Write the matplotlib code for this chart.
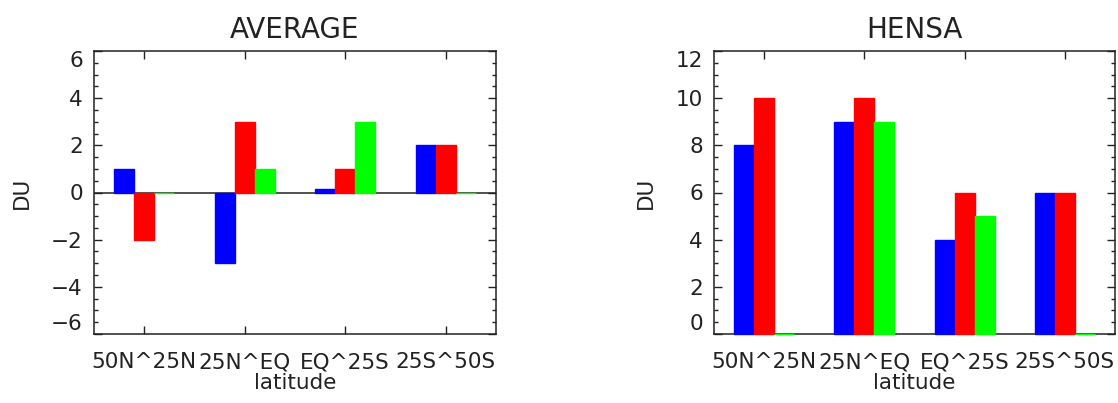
import matplotlib.pyplot as plt
from matplotlib.ticker import MultipleLocator

regions = ["50N^25N", "25N^EQ", "EQ^25S", "25S^50S"]

avg_blue = [1, -3, 0.15, 2]
avg_red = [-2, 3, 1, 2]
avg_green = [0, 1, 3, 0]
avg_yticks = [-6, -4, -2, 0, 2, 4, 6]

hensa_blue = [8, 9, 4, 6]
hensa_red = [10, 10, 6, 6]
hensa_green = [0, 9, 5, 0]
hensa_yticks = [0, 2, 4, 6, 8, 10, 12]

colors = ["#0000ff", "#ff0000", "#00ff00"]
ink = "#222222"

plt.rcParams['font.family'] = ['DejaVu Sans']

fig = plt.figure(figsize=(11.18, 4.03), dpi=100)
ax1 = fig.add_axes([94/1118, 69/403, 402/1118, 283/403])
ax2 = fig.add_axes([714/1118, 69/403, 401/1118, 283/403])


def draw_panel(ax, title, series, yticks, zero_line):
    x = [i + 0.5 for i in range(len(regions))]
    if zero_line:
        ax.axhline(0, color=ink, lw=1.1, zorder=1)
    for k, vals in enumerate(series):
        pos = [xi + (k - 1) * 0.2 for xi in x]
        ax.bar(pos, vals, width=0.2, color=colors[k], edgecolor=colors[k],
               linewidth=1.0, zorder=3, clip_on=False)
    ax.set_xlim(0, 4)
    ax.set_ylim(yticks[0], yticks[-1])
    ax.set_xticks(x)
    ax.set_xticklabels(regions)
    ax.set_yticks(yticks)
    ax.set_yticklabels([str(t).replace("-", "\u2212") for t in yticks])
    ax.yaxis.set_minor_locator(MultipleLocator(0.5))
    ax.tick_params(axis="both", which="both", direction="in", colors=ink,
                   labelcolor=ink, top=True, right=True, labelsize=15.5)
    ax.tick_params(which="major", length=6, width=1)
    ax.tick_params(which="minor", length=3, width=1)
    ax.tick_params(axis="x", pad=13)
    ax.tick_params(axis="y", pad=8)
    for s in ax.spines.values():
        s.set_color(ink)
        s.set_linewidth(1.1)
    ax.set_title(title, fontsize=20, color=ink, pad=9)
    ax.set_xlabel("latitude", fontsize=15.5, color=ink, labelpad=1)
    ax.set_ylabel("DU", fontsize=15.5, color=ink, labelpad=14)
    # end labels pulled inside the axis box
    ticks = ax.yaxis.get_major_ticks()
    ticks[0].label1.set_va("bottom")
    ticks[-1].label1.set_va("top")


draw_panel(ax1, "AVERAGE", [avg_blue, avg_red, avg_green], avg_yticks, True)
draw_panel(ax2, "HENSA", [hensa_blue, hensa_red, hensa_green], hensa_yticks, False)

fig.savefig("out.png", dpi=100)
